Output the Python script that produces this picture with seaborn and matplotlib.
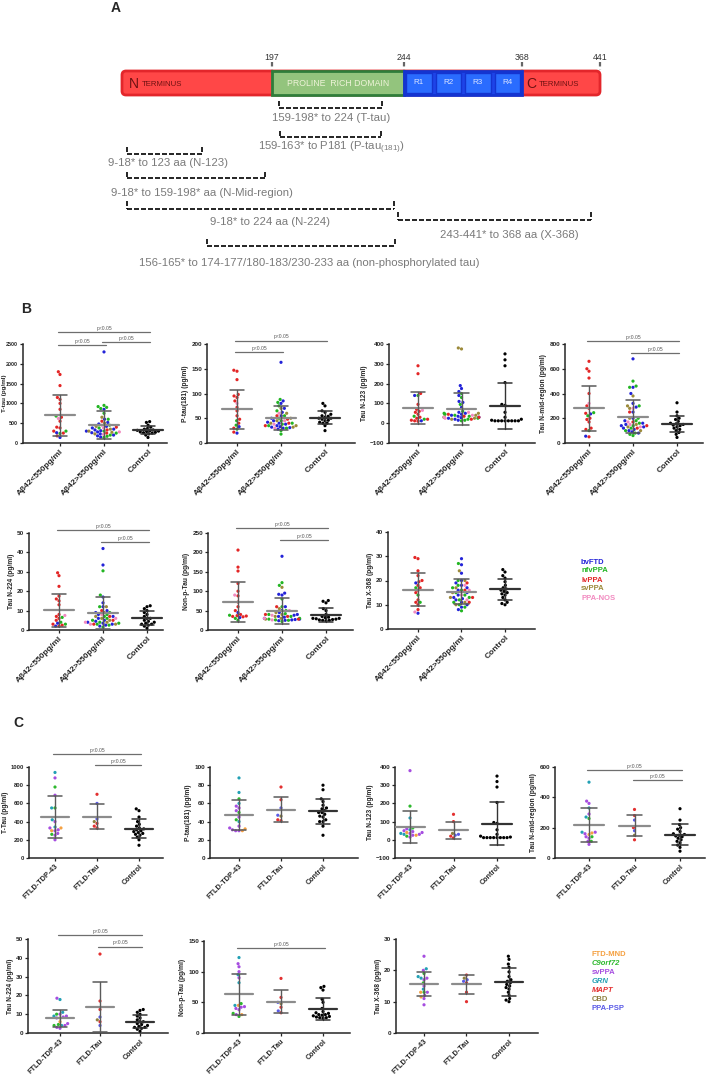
import warnings
warnings.filterwarnings('ignore')
import numpy as np
import pandas as pd
import matplotlib
matplotlib.use('Agg')
import matplotlib.pyplot as plt
from matplotlib.patches import FancyBboxPatch, Rectangle
import seaborn as sns

sns.set_style('ticks')
plt.rcParams['font.family'] = ['Liberation Sans', 'DejaVu Sans']
plt.rcParams['mathtext.default'] = 'regular'

# ---------------- Panel A data ----------------
DOMAIN_AA = [197, 244, 368, 441]
DOMAIN_X = [272, 404, 522, 600]
REPEATS = ['R1', 'R2', 'R3', 'R4']
FRAG_LABELS = ['159-198* to 224 (T-tau)',
               '159-163* to P181 (P-tau$_{(181)}$)',
               '9-18* to 123 aa (N-123)',
               '9-18* to 159-198* aa (N-Mid-region)',
               '9-18* to 224 aa (N-224)',
               '243-441* to 368 aa (X-368)',
               '156-165* to 174-177/180-183/230-233 aa (non-phosphorylated tau)']
FRAG_X0 = [279, 280, 127, 127, 127, 398, 207]
FRAG_X1 = [382, 381, 202, 265, 394, 591, 395]
FRAG_YT = [101, 131, 147, 172, 201, 212, 239]
FRAG_YB = [108, 137, 154, 178, 209, 220, 246]
FRAG_LX = [331, 331, 168, 202, 270, 509, 309]
FRAG_LY = [118, 148, 163, 193, 222, 235, 263]

# ---------------- Panel B data ----------------
B_CATS = ['Aβ42<550pg/ml', 'Aβ42>550pg/ml', 'Control']
B_TYPES = ['bvFTD', 'nfvPPA', 'lvPPA', 'svPPA', 'PPA-NOS']
B_COLORS = ['#2323d8', '#22b522', '#e32626', '#9c8a3a', '#f28ac0']
SUB_LOW = ['lvPPA'] * 14 + ['nfvPPA'] * 3 + ['bvFTD'] * 2 + ['PPA-NOS'] * 1
SUB_HIGH = ['bvFTD'] * 17 + ['nfvPPA'] * 13 + ['svPPA'] * 7 + ['lvPPA'] * 4 + ['PPA-NOS'] * 4
SUB_CTRL = ['Control'] * 18

TTAU_LOW = [1800, 1730, 1450, 1150, 1100, 1000, 850, 650, 550, 400, 380, 300, 250, 180,
            680, 300, 240, 140, 260, 620]
TTAU_HIGH = [2300, 850, 600, 520, 480, 420, 380, 350, 330, 310, 300, 280, 260, 230, 200, 180, 150,
             950, 920, 900, 870, 750, 600, 450, 380, 300, 250, 200, 170, 140,
             650, 500, 420, 350, 300, 270, 230, 550, 400, 330, 250, 450, 380, 280, 220]
TTAU_CTRL = [540, 520, 450, 400, 370, 350, 330, 320, 310, 300, 290, 280, 270, 260, 250, 230, 200, 140]

PTAU_LOW = [147, 145, 128, 98, 95, 92, 85, 72, 65, 55, 48, 40, 30, 22, 45, 36, 28, 20, 33, 80]
PTAU_HIGH = [163, 85, 80, 70, 62, 55, 50, 45, 42, 40, 38, 35, 33, 32, 31, 30, 28,
             88, 82, 75, 65, 55, 50, 45, 40, 38, 35, 30, 25, 18,
             70, 60, 50, 45, 40, 35, 32, 55, 48, 40, 35, 60, 45, 38, 30]
PTAU_CTRL = [80, 75, 65, 62, 58, 55, 54, 52, 50, 50, 48, 46, 45, 42, 40, 40, 35, 25]

N123_LOW = [290, 250, 150, 95, 70, 60, 55, 45, 30, 25, 20, 15, 12, 10, 140, 35, 20, 140, 12, 65]
N123_HIGH = [190, 175, 160, 140, 110, 105, 80, 55, 50, 45, 40, 35, 30, 28, 25, 20, 15,
             150, 130, 95, 60, 50, 45, 40, 35, 30, 25, 20, 15, 12,
             380, 375, 50, 40, 30, 25, 20, 45, 35, 30, 20, 55, 40, 30, 25]
N123_CTRL = [350, 320, 290, 205, 95, 90, 55, 30, 20, 15, 12, 12, 12, 12, 12, 12, 12, 12]

NMID_LOW = [660, 600, 580, 525, 400, 300, 280, 240, 200, 190, 170, 120, 110, 50, 245, 220, 100, 235, 55, 320]
NMID_HIGH = [680, 450, 400, 320, 290, 250, 200, 180, 160, 150, 140, 130, 120, 110, 100, 90, 80,
             500, 460, 450, 300, 200, 180, 160, 140, 120, 100, 80, 70, 60,
             380, 300, 280, 200, 150, 130, 100, 250, 170, 140, 120, 280, 170, 150, 130]
NMID_CTRL = [325, 250, 220, 200, 190, 175, 160, 155, 150, 145, 140, 130, 120, 110, 100, 85, 70, 45]

N224_LOW = [29.5, 28, 22.5, 17.5, 16, 15, 13, 8, 7, 6, 5, 3, 2.5, 2, 6.5, 4, 3, 2, 3.5, 7.5]
N224_HIGH = [42, 33.5, 17, 14, 12, 10, 9, 8, 7, 6, 5, 4.5, 4, 3.5, 3, 2.5, 2,
             30.5, 18, 12, 9, 8, 7, 6, 5, 4, 3.5, 3, 2.5, 1.5,
             12, 9, 7, 6, 5, 4, 3, 10, 7, 5, 3, 8, 6, 4, 3]
N224_CTRL = [12.5, 12, 11, 10, 9, 8, 7, 6, 6, 5, 4.5, 4, 3.5, 3, 3, 2.5, 2, 1]

NONP_LOW = [206, 162, 152, 120, 100, 88, 72, 60, 50, 40, 37, 36, 35, 34, 38, 30, 25, 32, 45, 90]
NONP_HIGH = [190, 95, 92, 90, 60, 50, 45, 40, 38, 35, 33, 30, 28, 27, 26, 25, 24,
             122, 115, 80, 60, 50, 42, 40, 35, 30, 28, 26, 25, 22,
             110, 55, 45, 40, 35, 30, 28, 60, 40, 35, 28, 50, 38, 30, 26]
NONP_CTRL = [76, 74, 70, 55, 50, 40, 35, 33, 32, 30, 30, 29, 28, 27, 26, 25, 25, 24]

X368_LOW = [29.5, 29, 24, 22, 20, 19.5, 18, 17, 16, 15, 12, 11, 10, 8, 17, 14, 11, 19, 6.5, 7]
X368_HIGH = [29, 26.5, 23, 20, 19, 18, 17, 16, 15, 14, 13, 12.5, 12, 11, 10, 9, 8,
             27, 20, 18, 17, 16, 15, 14, 13, 12, 11, 10, 9, 7.5,
             24, 20, 17, 15, 13, 11, 10, 19, 16, 13, 11, 18, 16, 14, 12]
X368_CTRL = [24.5, 23.5, 22, 21, 19.5, 18, 17, 16.5, 16, 15.5, 15, 14.5, 14, 13, 12, 11, 10.5, 10]

# ---------------- Panel C data ----------------
C_CATS = ['FTLD-TDP-43', 'FTLD-Tau', 'Control']
C_TYPES = ['FTD-MND', 'C9orf72', 'svPPA', 'GRN', 'MAPT', 'CBD', 'PPA-PSP']
C_COLORS = ['#f5a142', '#2eb82e', '#a64de0', '#22a0b4', '#e33030', '#8e8040', '#5a5ae6']
C_ITALIC = [False, True, False, True, True, False, False]
SUB_TDP = ['svPPA'] * 9 + ['GRN'] * 4 + ['C9orf72'] * 3 + ['FTD-MND'] * 2
SUB_TAU = ['MAPT'] * 4 + ['PPA-PSP'] * 2 + ['CBD'] * 1

C_TTAU_TDP = [880, 690, 400, 330, 310, 300, 270, 250, 200, 940, 550, 420, 340, 780, 550, 260, 330, 300]
C_TTAU_TAU = [700, 380, 350, 330, 600, 430, 400]
C_PTAU_TDP = [57, 55, 52, 45, 35, 33, 31, 30, 30, 88, 72, 60, 40, 65, 50, 42, 32, 30]
C_PTAU_TAU = [78, 64, 42, 41, 47, 55, 46]
C_N123_TDP = [380, 60, 50, 45, 40, 35, 30, 25, 15, 120, 55, 35, 30, 185, 65, 20, 40, 25]
C_N123_TAU = [140, 100, 20, 10, 30, 25, 35]
C_NMID_TDP = [375, 360, 290, 170, 160, 140, 130, 110, 90, 500, 330, 270, 170, 260, 140, 110, 165, 155]
C_NMID_TAU = [320, 280, 200, 120, 250, 180, 150]
C_N224_TDP = [18.5, 10, 9, 8.5, 8, 5, 4, 3, 2.5, 17.8, 11, 9, 4, 10, 4.5, 4, 8, 6]
C_N224_TAU = [42, 17, 12.5, 6, 8.5, 4, 7]
C_NONP_TDP = [113, 108, 100, 90, 43, 42, 40, 38, 30, 123, 95, 82, 45, 48, 32, 27, 45, 30]
C_NONP_TAU = [89, 58, 42, 33, 50, 36, 48]
C_X368_TDP = [24.5, 20, 17.5, 17, 15, 13, 12, 11, 9, 20.5, 18, 17.5, 14, 19, 16, 13, 11.5, 13]
C_X368_TAU = [18.5, 16, 13, 10, 17, 16.5, 17.5]

W, H = 708, 1074
fig = plt.figure(figsize=(W / 100, H / 100), dpi=100)

# ---------------- Panel A drawing ----------------
AH = 300
axA = fig.add_axes([0, 1 - AH / H, 1, AH / H])
axA.set_xlim(0, W)
axA.set_ylim(AH, 0)
axA.axis('off')
axA.text(116, 8, 'A', fontsize=10, fontweight='bold', ha='center', va='center')

x_start = 122
bar_t, bar_h = 71, 24
axA.add_patch(FancyBboxPatch((x_start, bar_t), DOMAIN_X[3] - x_start, bar_h,
                             boxstyle='round,pad=0,rounding_size=4',
                             fc='#ff4747', ec='#e3262b', lw=2.0, zorder=1))
axA.add_patch(Rectangle((DOMAIN_X[0], bar_t), DOMAIN_X[1] - DOMAIN_X[0], bar_h,
                        fc='#93c47d', ec='#2f7d3a', lw=2.0, zorder=2))
axA.add_patch(Rectangle((DOMAIN_X[1], bar_t), DOMAIN_X[2] - DOMAIN_X[1], bar_h,
                        fc='#1e44e8', ec='#1434d0', lw=2.0, zorder=2))
rw = (DOMAIN_X[2] - DOMAIN_X[1]) / len(REPEATS)
for k, rname in enumerate(REPEATS):
    x0 = DOMAIN_X[1] + k * rw + 2
    axA.add_patch(Rectangle((x0, bar_t + 2), rw - 4, bar_h - 4, fc='#2a6cff', ec='#1434d0', lw=1.0, zorder=3))
    axA.text(x0 + (rw - 4) / 2, bar_t + bar_h / 2, rname, fontsize=5.8, color='#dde6ff',
             ha='center', va='center', zorder=4)
axA.text((DOMAIN_X[0] + DOMAIN_X[1]) / 2, bar_t + bar_h / 2, 'PROLINE  RICH DOMAIN', fontsize=6.3,
         color='#eef3d8', ha='center', va='center', zorder=4)
axA.text(129, bar_t + bar_h / 2 + 0.5, 'N', fontsize=10, color='#6e1212', ha='left', va='center', zorder=4)
axA.text(142, bar_t + bar_h / 2 + 1.5, 'TERMINUS', fontsize=5.6, color='#6e1212', ha='left', va='center', zorder=4)
axA.text(526, bar_t + bar_h / 2 + 0.5, 'C', fontsize=10, color='#6e1212', ha='left', va='center', zorder=4)
axA.text(539, bar_t + bar_h / 2 + 1.5, 'TERMINUS', fontsize=5.6, color='#6e1212', ha='left', va='center', zorder=4)
for aa, xx in zip(DOMAIN_AA, DOMAIN_X):
    axA.text(xx, 57, str(aa), fontsize=6.3, color='#333333', ha='center', va='center')
    axA.plot([xx, xx], [62, 70], color='#666666', lw=1.6, ls=(0, (2, 1.5)), zorder=5)

for lab, x0, x1, yt, yb, lx, ly in zip(FRAG_LABELS, FRAG_X0, FRAG_X1, FRAG_YT, FRAG_YB, FRAG_LX, FRAG_LY):
    axA.plot([x0, x1], [yb, yb], color='black', lw=1.2, ls=(0, (3, 1.2)))
    axA.plot([x0, x0], [yt, yb], color='black', lw=1.2, ls=(0, (3, 1.2)))
    axA.plot([x1, x1], [yt, yb], color='black', lw=1.2, ls=(0, (3, 1.2)))
    axA.text(lx, ly, lab, fontsize=8.2, color='#7a7a7a', ha='center', va='center')

# ---------------- dot plot helper ----------------
def dot_panel(box, cats, vals, subs, palette, hue_order, ylabel, ylim, yticks, plines, xfs,
              yfs=4.6, ylx=None, ylfs=4.8):
    l, r, t, b, c0, c2 = box
    ax = fig.add_axes([l / W, 1 - b / H, (r - l) / W, (b - t) / H])
    rows = []
    for cat, vv, ss in zip(cats, vals, subs):
        for v, s in zip(vv, ss):
            rows.append((cat, s, v))
    df = pd.DataFrame(rows, columns=['group', 'subtype', 'value'])
    sns.swarmplot(data=df, x='group', y='value', hue='subtype', order=cats, hue_order=hue_order,
                  palette=palette, size=2.3, linewidth=0, ax=ax, legend=False, zorder=3)
    sp = (c2 - c0) / 2
    ax.set_xlim(-(c0 - l) / sp, 2 + (r - c2) / sp)
    ax.set_ylim(*ylim)
    ax.set_yticks(yticks)
    for i, vv in enumerate(vals):
        m, sd = np.mean(vv), np.std(vv, ddof=1)
        cm = '#333333' if i == 2 else '#8c8c8c'
        cs = '#333333' if i == 2 else '#5a5a5a'
        ax.plot([i - 0.34, i + 0.34], [m, m], color=cm, lw=1.6, zorder=4)
        ax.plot([i - 0.17, i + 0.17], [m + sd, m + sd], color=cs, lw=1.1, zorder=4)
        ax.plot([i - 0.17, i + 0.17], [m - sd, m - sd], color=cs, lw=1.1, zorder=4)
        ax.plot([i, i], [m - sd, m + sd], color=cs, lw=1.0, zorder=4)
    for i, j, y in plines:
        ax.plot([i - 0.04, j + 0.04], [y, y], color='#6e6e6e', lw=0.9, clip_on=False)
        ax.annotate('p<0.05', xy=((i + j) / 2, y), xytext=(0, 0.8), textcoords='offset points',
                    ha='center', va='bottom', fontsize=3.6, color='#555555', annotation_clip=False)
    ax.set_xticks(range(3))
    ax.set_xticklabels(cats, rotation=45, ha='right', rotation_mode='anchor',
                       fontsize=xfs, fontweight='bold')
    ax.set_xlabel('')
    ax.set_ylabel(ylabel, fontsize=ylfs, fontweight='bold', labelpad=1.5)
    if ylx is not None:
        ax.yaxis.set_label_coords((ylx - l) / (r - l), 0.5)
        ax.yaxis.label.set_va('center')
    ax.tick_params(axis='y', labelsize=yfs, length=2.5, width=0.9, pad=1.0)
    ax.tick_params(axis='x', length=2.5, width=0.9, pad=1.0)
    for lab in ax.get_yticklabels():
        lab.set_fontweight('bold')
    sns.despine(ax=ax)
    for s in ('left', 'bottom'):
        ax.spines[s].set_linewidth(1.1)
    return ax

b_pal = dict(zip(B_TYPES, B_COLORS))
b_pal['Control'] = 'black'
b_order = B_TYPES + ['Control']
c_pal = dict(zip(C_TYPES, C_COLORS))
c_pal['Control'] = 'black'
c_order = C_TYPES + ['Control']

fig.text(26 / W, 1 - 309 / H, 'B', fontsize=10, fontweight='bold', ha='center', va='center')
fig.text(18 / W, 1 - 723 / H, 'C', fontsize=10, fontweight='bold', ha='center', va='center')

B_SUBS = [SUB_LOW, SUB_HIGH, SUB_CTRL]
C_SUBS = [SUB_TDP, SUB_TAU, SUB_CTRL]

# Panel B row 1
dot_panel((23, 167, 344, 443, 60, 148), B_CATS, [TTAU_LOW, TTAU_HIGH, TTAU_CTRL], B_SUBS, b_pal, b_order,
          'T-tau (pg/ml)', (0, 2500), [0, 500, 1000, 1500, 2000, 2500],
          [(0, 2, 2800), (0, 1, 2480), (1, 2, 2550)], 6, yfs=3.9, ylx=4.5, ylfs=4.5)
dot_panel((207, 355, 344, 443, 237, 325), B_CATS, [PTAU_LOW, PTAU_HIGH, PTAU_CTRL], B_SUBS, b_pal, b_order,
          'P-tau(181) (pg/ml)', (0, 200), [0, 50, 100, 150, 200],
          [(0, 2, 207), (0, 1, 184)], 6)
dot_panel((389, 535, 344, 443, 418, 505), B_CATS, [N123_LOW, N123_HIGH, N123_CTRL], B_SUBS, b_pal, b_order,
          'Tau N-123 (pg/ml)', (-100, 400), [-100, 0, 100, 200, 300, 400], [], 6)
dot_panel((565, 703, 344, 443, 589, 677), B_CATS, [NMID_LOW, NMID_HIGH, NMID_CTRL], B_SUBS, b_pal, b_order,
          'Tau N-mid-region (pg/ml)', (0, 800), [0, 200, 400, 600, 800],
          [(0, 2, 827), (1, 2, 730)], 6)
# Panel B row 2
dot_panel((29, 163, 533, 630, 59, 147), B_CATS, [N224_LOW, N224_HIGH, N224_CTRL], B_SUBS, b_pal, b_order,
          'Tau N-224 (pg/ml)', (0, 50), [0, 10, 20, 30, 40, 50],
          [(0, 2, 51.5), (1, 2, 45.4)], 6)
dot_panel((208, 353, 533, 630, 238, 326), B_CATS, [NONP_LOW, NONP_HIGH, NONP_CTRL], B_SUBS, b_pal, b_order,
          'Non-p-Tau (pg/ml)', (0, 250), [0, 50, 100, 150, 200, 250],
          [(0, 2, 263), (1, 2, 232)], 6)
dot_panel((388, 535, 532, 629, 418, 505), B_CATS, [X368_LOW, X368_HIGH, X368_CTRL], B_SUBS, b_pal, b_order,
          'Tau X-368 (pg/ml)', (0, 40), [0, 10, 20, 30, 40], [], 6)
for k, (name, col) in enumerate(zip(B_TYPES, B_COLORS)):
    fig.text(581 / W, 1 - (562 + 9 * k) / H, name, color=col, fontsize=5.5, fontweight='bold',
             ha='left', va='center')

# Panel C row 1
dot_panel((29, 163, 767, 858, 55, 139), C_CATS, [C_TTAU_TDP, C_TTAU_TAU, TTAU_CTRL], C_SUBS, c_pal, c_order,
          'T-Tau (pg/ml)', (0, 1000), [0, 200, 400, 600, 800, 1000],
          [(0, 2, 1140), (1, 2, 1020)], 5.2, yfs=4.2, ylx=6)
dot_panel((210, 358, 767, 858, 239, 323), C_CATS, [C_PTAU_TDP, C_PTAU_TAU, PTAU_CTRL], C_SUBS, c_pal, c_order,
          'P-tau(181) (pg/ml)', (0, 100), [0, 20, 40, 60, 80, 100], [], 5.2)
dot_panel((395, 535, 767, 858, 410, 497), C_CATS, [C_N123_TDP, C_N123_TAU, N123_CTRL], C_SUBS, c_pal, c_order,
          'Tau N-123 (pg/ml)', (-100, 400), [-100, 0, 100, 200, 300, 400], [], 5.2)
dot_panel((555, 705, 767, 858, 589, 680), C_CATS, [C_NMID_TDP, C_NMID_TAU, NMID_CTRL], C_SUBS, c_pal, c_order,
          'Tau N-mid-region (pg/ml)', (0, 600), [0, 200, 400, 600],
          [(0, 2, 580), (1, 2, 515)], 5.2)
# Panel C row 2
dot_panel((28, 168, 939, 1033, 60, 140), C_CATS, [C_N224_TDP, C_N224_TAU, N224_CTRL], C_SUBS, c_pal, c_order,
          'Tau N-224 (pg/ml)', (0, 50), [0, 10, 20, 30, 40, 50],
          [(0, 2, 52), (1, 2, 46)], 5.2)
dot_panel((204, 350, 941, 1033, 239, 323), C_CATS, [C_NONP_TDP, C_NONP_TAU, NONP_CTRL], C_SUBS, c_pal, c_order,
          'Non-p-Tau (pg/ml)', (0, 150), [0, 50, 100, 150],
          [(0, 2, 138)], 5.2)
dot_panel((396, 538, 939, 1033, 424, 509), C_CATS, [C_X368_TDP, C_X368_TAU, X368_CTRL], C_SUBS, c_pal, c_order,
          'Tau X-368 (pg/ml)', (0, 30), [0, 10, 20, 30], [], 5.2)
for k, (name, col, it) in enumerate(zip(C_TYPES, C_COLORS, C_ITALIC)):
    fig.text(592 / W, 1 - (955 + 8.9 * k) / H, name, color=col, fontsize=5.5, fontweight='bold',
             style='italic' if it else 'normal', ha='left', va='center')

fig.savefig('out.png', dpi=100)
